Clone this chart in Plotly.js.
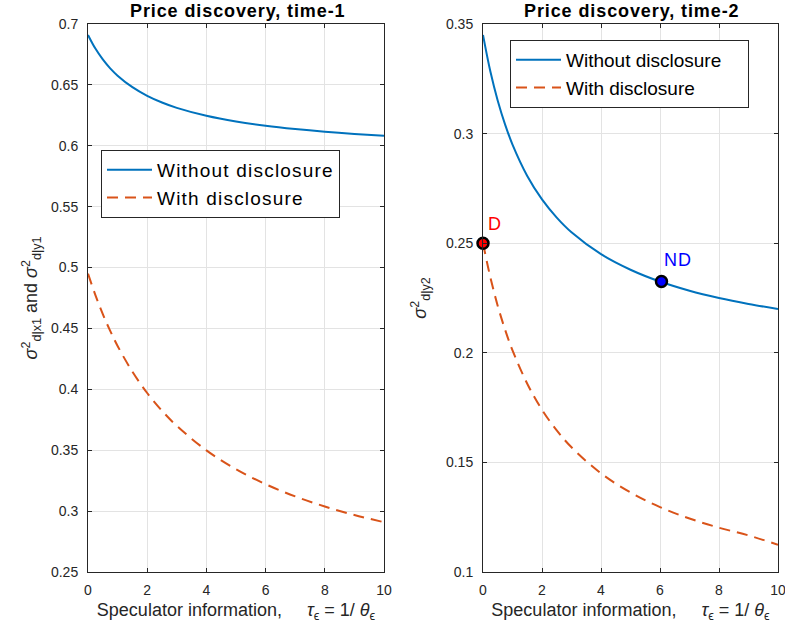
<!DOCTYPE html>
<html>
<head>
<meta charset="utf-8">
<script src="https://cdn.plot.ly/plotly-3.0.1.min.js"></script>
<style>
html,body{margin:0;padding:0;background:#fff;}
#chart{width:785px;height:635px;}
.legendtext{letter-spacing:1.2px;}
.annotation-text{letter-spacing:0.9px;}
</style>
</head>
<body>
<div id="chart"></div>
<script>
// Shared x grid (speculator information, tau_eps)
const tau = [0, 0.25, 0.5, 0.75, 1, 1.5, 2, 2.5, 3, 4, 5, 6, 7, 8, 9, 10];

// Time-1 panel
const t1Without = [0.691, 0.6798, 0.6709, 0.6636, 0.6576, 0.6481, 0.641, 0.6355, 0.6311, 0.6246, 0.6199, 0.6164, 0.6137, 0.6115, 0.6097, 0.6082];
const t1With    = [0.495, 0.4774, 0.4618, 0.448, 0.4356, 0.4145, 0.397, 0.3824, 0.370, 0.3499, 0.3344, 0.3221, 0.3121, 0.3038, 0.2968, 0.2909];

// Time-2 panel
const t2Without = [0.345, 0.3283, 0.315, 0.3041, 0.295, 0.2807, 0.270, 0.2617, 0.255, 0.245, 0.2379, 0.2325, 0.2283, 0.225, 0.2223, 0.220];
const t2With    = [0.250, 0.2344, 0.2214, 0.2105, 0.2011, 0.1859, 0.174, 0.1646, 0.1569, 0.145, 0.1363, 0.1296, 0.1244, 0.1202, 0.1167, 0.1124];

// Highlighted points on time-2 panel
const ptLabels = ['D', 'ND'];
const ptX = [0, 6.05];
const ptY = [0.25, 0.2325];

// Tick labels
const xTicks = [0, 2, 4, 6, 8, 10];
const y1Ticks = [0.25, 0.3, 0.35, 0.4, 0.45, 0.5, 0.55, 0.6, 0.65, 0.7];
const y1TickText = ['0.25','0.3','0.35','0.4','0.45','0.5','0.55','0.6','0.65','0.7'];
const y2Ticks = [0.1, 0.15, 0.2, 0.25, 0.3, 0.35];
const y2TickText = ['0.1','0.15','0.2','0.25','0.3','0.35'];

const BLUE = '#0072BD', RED = '#D95319', AX = '#262626';
const FONT = 'Liberation Sans, Arial, sans-serif';
const W = 785, H = 635;

const traces = [
  {x: tau, y: t1Without, xaxis: 'x', yaxis: 'y', mode: 'lines', name: 'Without disclosure',
   line: {color: BLUE, width: 2, shape: 'spline'}, legend: 'legend'},
  {x: tau, y: t1With, xaxis: 'x', yaxis: 'y', mode: 'lines', name: 'With disclosure',
   line: {color: RED, width: 2, dash: '11px,7px', shape: 'spline'}, legend: 'legend'},
  {x: tau, y: t2Without, xaxis: 'x2', yaxis: 'y2', mode: 'lines', name: 'Without disclosure',
   line: {color: BLUE, width: 2, shape: 'spline'}, legend: 'legend2'},
  {x: tau, y: t2With, xaxis: 'x2', yaxis: 'y2', mode: 'lines', name: 'With disclosure',
   line: {color: RED, width: 2, dash: '11px,7px', shape: 'spline'}, legend: 'legend2'},
  {x: [ptX[0]], y: [ptY[0]], xaxis: 'x2', yaxis: 'y2', mode: 'markers', showlegend: false, cliponaxis: false,
   marker: {color: '#ff0000', size: 11, line: {color: '#000', width: 2.5}}},
  {x: [ptX[1]], y: [ptY[1]], xaxis: 'x2', yaxis: 'y2', mode: 'markers', showlegend: false, cliponaxis: false,
   marker: {color: '#0000ff', size: 11, line: {color: '#000', width: 2.5}}}
];

function xax(domain, anchor) {
  return {
    domain: domain, anchor: anchor, range: [0, 10], tickvals: xTicks, ticktext: xTicks.map(String),
    ticks: 'inside', ticklen: 4, tickcolor: AX, tickwidth: 1, mirror: 'ticks',
    showline: true, linecolor: AX, linewidth: 1, showgrid: true, gridcolor: '#e3e3e3', gridwidth: 1,
    zeroline: false, tickfont: {family: FONT, size: 14, color: AX}, ticklabelstandoff: 5,
    ticklabeloverflow: 'allow', automargin: false,
    title: {text: 'Speculator information,&nbsp;&nbsp;&nbsp;&nbsp; <i>τ</i><sub>ϵ</sub> = 1/ <i>θ</i><sub>ϵ</sub>',
            font: {family: FONT, size: 18, color: AX}, standoff: 6}
  };
}
function yax(domain, anchor, range, tv, tt, title, standoff) {
  return {
    domain: domain, anchor: anchor, range: range, tickvals: tv, ticktext: tt,
    ticks: 'inside', ticklen: 4, tickcolor: AX, tickwidth: 1, mirror: 'ticks',
    showline: true, linecolor: AX, linewidth: 1, showgrid: true, gridcolor: '#e3e3e3', gridwidth: 1,
    zeroline: false, tickfont: {family: FONT, size: 14, color: AX}, ticklabelstandoff: 6,
    ticklabeloverflow: 'allow', automargin: false,
    title: {text: title, font: {family: FONT, size: 18, color: AX}, standoff: standoff}
  };
}

const yDom = [1 - 572 / H, 1 - 24 / H];

const layout = {
  width: W, height: H, paper_bgcolor: '#fff', plot_bgcolor: '#fff',
  margin: {l: 0, r: 0, t: 0, b: 0, pad: 0},
  font: {family: FONT, color: AX},
  xaxis: xax([88 / W, 384 / W], 'y'),
  yaxis: yax(yDom, 'x', [0.25, 0.7], y1Ticks, y1TickText,
             '<i>σ</i><sup>2</sup><sub>d|x1</sub> and <i>σ</i><sup>2</sup><sub>d|y1</sub>', 8),
  xaxis2: xax([483 / W, 778 / W], 'y2'),
  yaxis2: yax(yDom, 'x2', [0.1, 0.35], y2Ticks, y2TickText, '<i>σ</i><sup>2</sup><sub>d|y2</sub>', 14),
  legend: {x: 101 / W, y: 1 - 150 / H, xanchor: 'left', yanchor: 'top', bgcolor: '#fff',
           bordercolor: AX, borderwidth: 1, font: {family: FONT, size: 19, color: '#000'},
           tracegroupgap: 0, itemwidth: 45},
  legend2: {x: 510 / W, y: 1 - 40 / H, xanchor: 'left', yanchor: 'top', bgcolor: '#fff',
            bordercolor: AX, borderwidth: 1, font: {family: FONT, size: 19, color: '#000'},
            tracegroupgap: 0, itemwidth: 45},
  annotations: [
    {text: '<b>Price discovery, time-1</b>', xref: 'paper', yref: 'paper', x: 237 / W, y: 1 - 11 / H,
     xanchor: 'center', yanchor: 'middle', showarrow: false, font: {family: FONT, size: 18, color: '#000'}},
    {text: '<b>Price discovery, time-2</b>', xref: 'paper', yref: 'paper', x: 631 / W, y: 1 - 11 / H,
     xanchor: 'center', yanchor: 'middle', showarrow: false, font: {family: FONT, size: 18, color: '#000'}},
    {text: ptLabels[0], xref: 'x2', yref: 'y2', x: ptX[0] + 0.1, y: 0.2586, xanchor: 'left', yanchor: 'middle',
     showarrow: false, font: {family: FONT, size: 18, color: '#ff0000'}},
    {text: ptLabels[1], xref: 'x2', yref: 'y2', x: ptX[1] + 0.02, y: 0.2422, xanchor: 'left', yanchor: 'middle',
     showarrow: false, font: {family: FONT, size: 18, color: '#0000ff'}}
  ]
};

Plotly.newPlot('chart', traces, layout, {staticPlot: true, displayModeBar: false});
</script>
</body>
</html>
